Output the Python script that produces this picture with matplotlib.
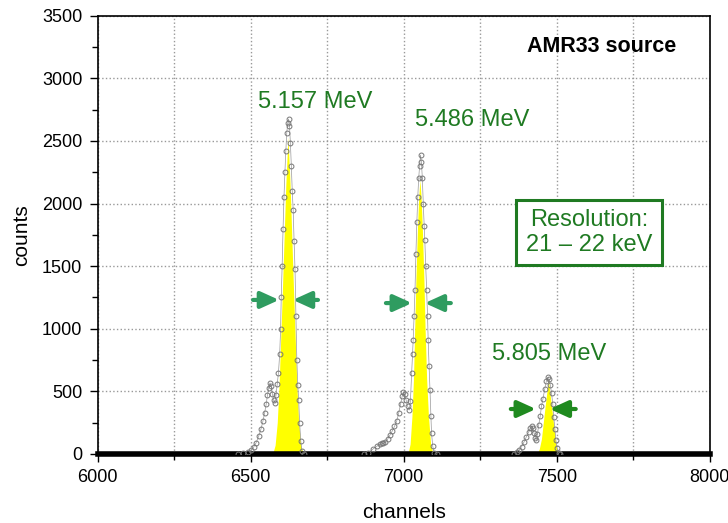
import numpy as np
import matplotlib.pyplot as plt
from matplotlib.ticker import MultipleLocator

plt.rcParams['font.family'] = ['Liberation Sans', 'DejaVu Sans']

ch1 = [6460, 6475, 6490, 6500, 6510, 6518, 6526, 6534, 6540, 6546, 6551, 6555, 6559, 6563,
       6567, 6571, 6575, 6579, 6583, 6587, 6591, 6595, 6598, 6600, 6603, 6606, 6609, 6612,
       6615, 6618, 6621, 6624, 6627, 6630, 6633, 6636, 6639, 6642, 6645, 6648, 6651, 6654,
       6657, 6660, 6664, 6668, 6675]
cnt1 = [0, 5, 15, 30, 55, 90, 140, 200, 260, 330, 400, 470, 530, 567,
        540, 480, 430, 410, 470, 560, 650, 800, 1000, 1250, 1500, 1800, 2050, 2250,
        2420, 2560, 2640, 2675, 2620, 2480, 2300, 2100, 1950, 1700, 1480, 1100, 750, 550,
        430, 250, 100, 20, 0]

ch2 = [6870, 6885, 6900, 6912, 6922, 6928, 6934, 6940, 6948, 6955, 6962, 6970, 6977, 6984,
       6990, 6995, 6999, 7003, 7008, 7013, 7018, 7022, 7026, 7029, 7031, 7034, 7037, 7040,
       7043, 7046, 7049, 7052, 7055, 7058, 7061, 7064, 7067, 7069, 7072, 7075, 7078, 7080,
       7083, 7086, 7089, 7091, 7095, 7100, 7108]
cnt2 = [0, 10, 40, 60, 80, 90, 85, 95, 120, 150, 180, 220, 260, 330,
        400, 460, 497, 480, 430, 380, 351, 420, 645, 800, 910, 1100, 1310, 1600,
        1850, 2050, 2200, 2300, 2387, 2330, 2200, 2000, 1820, 1709, 1500, 1310, 1100, 910,
        700, 511, 300, 165, 60, 10, 0]

ch3 = [7360, 7370, 7378, 7385, 7393, 7401, 7408, 7413, 7418, 7422, 7426, 7430, 7433, 7437,
       7441, 7446, 7450, 7455, 7461, 7466, 7471, 7475, 7479, 7483, 7487, 7490, 7494, 7497,
       7501, 7506, 7512]
cnt3 = [0, 15, 35, 58, 95, 138, 175, 205, 224, 205, 165, 125, 112, 160,
        230, 300, 380, 440, 520, 580, 612, 600, 550, 485, 400, 298, 200, 112,
        50, 10, 0]

# fitted peaks (yellow)
fit1_ch = [6572, 6580, 6587, 6593, 6598, 6603, 6609, 6615, 6622, 6629, 6635, 6641, 6646, 6651, 6657, 6664, 6672]
fit1 = [0, 70, 250, 550, 900, 1250, 1700, 2150, 2531, 2150, 1700, 1250, 900, 550, 250, 70, 0]
fit2_ch = [7014, 7021, 7027, 7032, 7036, 7040, 7045, 7049, 7053, 7057, 7061, 7066, 7070, 7075, 7081, 7088, 7096]
fit2 = [0, 80, 300, 600, 1000, 1400, 1800, 2050, 2188, 2050, 1800, 1400, 1000, 600, 300, 80, 0]
fit3_ch = [7436, 7443, 7450, 7456, 7462, 7467, 7473, 7478, 7483, 7489, 7495, 7500, 7505]
fit3 = [0, 40, 120, 250, 380, 480, 596, 480, 380, 250, 120, 40, 0]

# peak labels
labels = ['5.157 MeV', '5.486 MeV', '5.805 MeV']
label_x = [6710, 7224, 7474]
label_y = [2811, 2667, 798]

# FWHM arrows: (left tail, left tip, right tip, right tail, height)
arrows = [(6508, 6593, 6638, 6720, 1230),
          (6942, 7027, 7069, 7154, 1205),
          (7350, 7432, 7477, 7562, 359)]
arrow_colors = ['#2f9c60', '#2f9c60', '#1f8a1f']

txt_green = '#1f7a22'

fig = plt.figure(figsize=(7.28, 5.23), dpi=100)
ax = fig.add_axes([0.134, 0.132, 0.841, 0.838])

for fx, fy in [(fit1_ch, fit1), (fit2_ch, fit2), (fit3_ch, fit3)]:
    ax.fill_between(fx, fy, color='#ffff00', lw=0, zorder=1)

for cx, cy in [(ch1, cnt1), (ch2, cnt2), (ch3, cnt3)]:
    ax.plot(cx, cy, '-', color='#999999', lw=0.5, zorder=2)
    ax.plot(cx, cy, 'o', mfc='none', mec='#777777', ms=3.5, mew=0.7, zorder=3)

for (lt, lp, rp, rt, h), c in zip(arrows, arrow_colors):
    for tail, tip in [(lt, lp), (rt, rp)]:
        ax.annotate('', xy=(tip, h), xytext=(tail, h),
                    arrowprops=dict(arrowstyle='-|>,head_length=1.1,head_width=0.5',
                                    color=c, lw=3, shrinkA=0, shrinkB=0,
                                    mutation_scale=10), zorder=4)

for t, x, y in zip(labels, label_x, label_y):
    ax.text(x, y, t, color=txt_green, fontsize=17, ha='center', va='center', zorder=5)

ax.text(7648, 3250, 'AMR33 source', fontsize=15.5, fontweight='bold', ha='center', va='center')
ax.text(7605, 1770, 'Resolution:\n21 – 22 keV', color=txt_green, fontsize=17,
        ha='center', va='center', linespacing=1.15, zorder=5,
        bbox=dict(boxstyle='square,pad=0.4', fc='white', ec=txt_green, lw=2.2))

ax.set_xlim(6000, 8000)
ax.set_ylim(0, 3500)
ax.xaxis.set_major_locator(MultipleLocator(500))
ax.xaxis.set_minor_locator(MultipleLocator(250))
ax.yaxis.set_major_locator(MultipleLocator(500))
ax.yaxis.set_minor_locator(MultipleLocator(250))
ax.tick_params(which='major', direction='out', length=6, width=1, labelsize=13, pad=5)
ax.tick_params(which='minor', direction='out', length=4, width=1)
ax.grid(True, which='major', axis='y', ls=':', color='#999999', lw=1)
ax.grid(True, which='both', axis='x', ls=':', color='#999999', lw=1)
ax.set_axisbelow(True)

for s in ['left', 'right', 'top']:
    ax.spines[s].set_linewidth(1.2)
ax.spines['bottom'].set_linewidth(4)

ax.set_xlabel('channels', fontsize=15, labelpad=12)
ax.set_ylabel('counts', fontsize=15, labelpad=8)

fig.savefig('out.png', dpi=100)
